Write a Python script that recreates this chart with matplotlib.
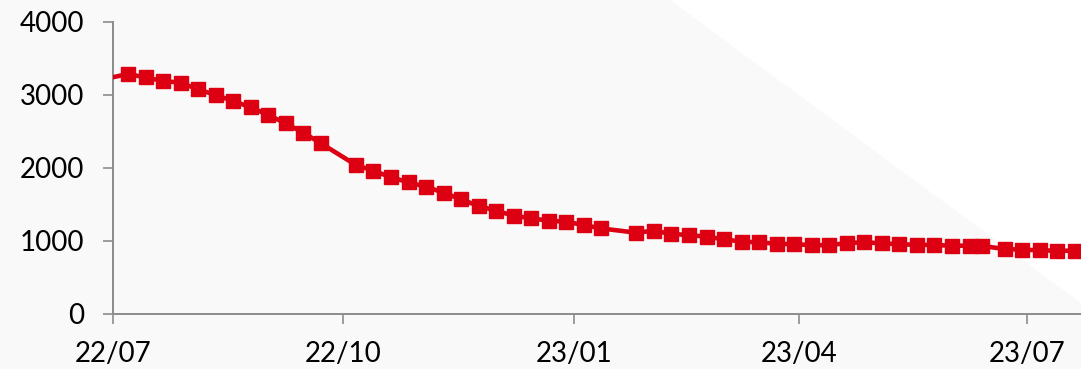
import matplotlib
matplotlib.use("Agg")
import matplotlib.pyplot as plt
import datetime as dt
from matplotlib.patches import Polygon

# Data (weekly observations)
dates = [
    "2022-06-30", "2022-07-07", "2022-07-14", "2022-07-21", "2022-07-28",
    "2022-08-04", "2022-08-11", "2022-08-18", "2022-08-25", "2022-09-01",
    "2022-09-08", "2022-09-15", "2022-09-22", "2022-10-06", "2022-10-13",
    "2022-10-20", "2022-10-27", "2022-11-03", "2022-11-10", "2022-11-17",
    "2022-11-24", "2022-12-01", "2022-12-08", "2022-12-15", "2022-12-22",
    "2022-12-29", "2023-01-05", "2023-01-12", "2023-01-26", "2023-02-02",
    "2023-02-09", "2023-02-16", "2023-02-23", "2023-03-02", "2023-03-09",
    "2023-03-16", "2023-03-23", "2023-03-30", "2023-04-06", "2023-04-13",
    "2023-04-20", "2023-04-27", "2023-05-04", "2023-05-11", "2023-05-18",
    "2023-05-25", "2023-06-01", "2023-06-08", "2023-06-13", "2023-06-22",
    "2023-06-29", "2023-07-06", "2023-07-13", "2023-07-20",
]
values = [
    3230, 3280, 3235, 3185, 3162,
    3071, 2993, 2911, 2825, 2719,
    2605, 2477, 2332, 2034, 1956,
    1866, 1797, 1737, 1655, 1564,
    1473, 1408, 1340, 1304, 1271,
    1258, 1212, 1165, 1107, 1134,
    1089, 1075, 1052, 1016, 984,
    975, 956, 948, 938, 934,
    966, 975, 962, 948, 942,
    938, 929, 929, 925, 884,
    874, 866, 860, 860,
]
tick_dates = ["2022-07-01", "2022-10-01", "2023-01-01", "2023-04-01", "2023-07-01"]
tick_labels = ["22/07", "22/10", "23/01", "23/04", "23/07"]
y_ticks = [0, 1000, 2000, 3000, 4000]

x = [dt.datetime.strptime(d, "%Y-%m-%d") for d in dates]
xt = [dt.datetime.strptime(d, "%Y-%m-%d") for d in tick_dates]

plt.rcParams['font.family'] = ['Lato', 'DejaVu Sans']

fig = plt.figure(figsize=(10.81, 3.69), dpi=100)
fig.patch.set_facecolor("#f9f9f9")
tri = Polygon([[0.62, 1.0], [1.0, 1.0], [1.0, 0.179]], closed=True,
              transform=fig.transFigure, facecolor="white", edgecolor="none", zorder=0)
fig.patches.append(tri)

ax = fig.add_axes([0.1045, 0.1504, 0.8955, 0.7913], zorder=2)
ax.patch.set_visible(False)

red = "#dc0012"
ax.plot(x, values, color=red, lw=3.3, marker="s", markersize=10.5,
        markerfacecolor=red, markeredgecolor=red, zorder=3,
        markevery=list(range(1, len(values))))

ax.set_xlim(dt.datetime(2022, 7, 1), dt.datetime(2023, 7, 22, 12))
ax.set_ylim(0, 4000)
ax.set_xticks(xt)
ax.set_xticklabels(tick_labels)
ax.set_yticks(y_ticks)
ax.set_yticklabels([str(v) for v in y_ticks])

gray = "#8c8c8c"
for s in ["top", "right"]:
    ax.spines[s].set_visible(False)
for s in ["left", "bottom"]:
    ax.spines[s].set_color(gray)
    ax.spines[s].set_linewidth(1.4)

ax.tick_params(axis="both", direction="out", length=7, width=1.2, color=gray,
               labelsize=20, labelcolor="#000000")
ax.tick_params(axis="y", pad=14)
ax.tick_params(axis="x", pad=13)

fig.savefig("out.png", dpi=100, facecolor=fig.get_facecolor())
